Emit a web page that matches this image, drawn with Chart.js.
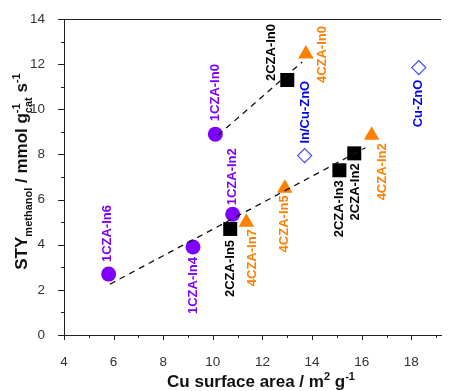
<!DOCTYPE html>
<html><head><meta charset="utf-8">
<script src="https://cdn.jsdelivr.net/npm/chart.js@4.4.1/dist/chart.umd.min.js"></script>
<style>html,body{margin:0;padding:0;background:#fff;} #wrap{width:451px;height:391px;position:relative;}</style>
</head><body><div id="wrap"><canvas id="c" width="451" height="391"></canvas></div>
<script>
// ---- data ----
const cza1Names = ['1CZA-In0', '1CZA-In2', '1CZA-In4', '1CZA-In6'];
const cza1X = [10.1, 10.8, 9.2, 5.8];
const cza1Y = [8.9, 5.35, 3.9, 2.7];
const cza2Names = ['2CZA-In0', '2CZA-In2', '2CZA-In3', '2CZA-In5'];
const cza2X = [13.0, 15.7, 15.1, 10.7];
const cza2Y = [11.3, 8.05, 7.3, 4.7];
const cza4Names = ['4CZA-In0', '4CZA-In2', '4CZA-In5', '4CZA-In7'];
const cza4X = [13.75, 16.4, 12.9, 11.35];
const cza4Y = [12.45, 8.85, 6.5, 5.0];
const refNames = ['In/Cu-ZnO', 'Cu-ZnO'];
const refX = [13.7, 18.3];
const refY = [7.95, 11.85];
const fitHighX = [10.2, 13.6];
const fitHighY = [8.85, 12.1];
const fitLowX = [5.85, 16.15];
const fitLowY = [2.25, 8.3];
const xTickValues = [4, 6, 8, 10, 12, 14, 16, 18];
const yTickValues = [0, 2, 4, 6, 8, 10, 12, 14];

// ---- label placement (pixel offsets from the marker, rotated text) ----
const labelPlace = {
  '1CZA-In0': [0, -13, 'left'],
  '1CZA-In2': [0, -9, 'left'],
  '1CZA-In6': [-1, -12, 'left'],
  '1CZA-In4': [0, 10, 'right'],
  '2CZA-In5': [0, 11, 'right'],
  '4CZA-In7': [6, 7, 'right'],
  '4CZA-In5': [0, 7, 'right'],
  '2CZA-In3': [0, 10, 'right'],
  '2CZA-In2': [1, 10, 'right'],
  '4CZA-In2': [11, 8, 'right'],
  '2CZA-In0': [-16, 1, 'left'],
  '4CZA-In0': [17, 29, 'left'],
  'In/Cu-ZnO': [1, -12, 'left'],
  'Cu-ZnO': [0, 12, 'right']
};

const FONT = '"Liberation Sans", Arial, Helvetica, sans-serif';
const zip = (xs, ys) => xs.map((x, i) => ({x: x, y: ys[i]}));

const labelsPlugin = {
  id: 'ptlabels',
  afterDatasetsDraw(chart) {
    const ctx = chart.ctx;
    chart.data.datasets.forEach((ds, di) => {
      if (!ds.names) return;
      const meta = chart.getDatasetMeta(di);
      meta.data.forEach((el, i) => {
        const name = ds.names[i];
        const p = labelPlace[name] || [0, -12, 'left'];
        ctx.save();
        ctx.translate(el.x + p[0], el.y + p[1]);
        ctx.rotate(-Math.PI / 2);
        ctx.font = 'bold 13px ' + FONT;
        ctx.fillStyle = ds.labelColor;
        ctx.textAlign = p[2];
        ctx.textBaseline = 'middle';
        ctx.fillText(name, 0, 0);
        ctx.restore();
      });
    });
  }
};

function drawRich(ctx, parts, x, y, main) {
  // parts: {t, k: 'n'|'sub'|'sup'|'stack', t2}
  const small = Math.round(main * 0.65);
  const widths = parts.map(p => {
    if (p.k === 'n') { ctx.font = 'bold ' + main + 'px ' + FONT; return ctx.measureText(p.t).width; }
    ctx.font = 'bold ' + small + 'px ' + FONT;
    if (p.k === 'stack') return Math.max(ctx.measureText(p.t).width, ctx.measureText(p.t2).width);
    return ctx.measureText(p.t).width;
  });
  const total = widths.reduce((a, b) => a + b, 0);
  let cx = x - total / 2;
  parts.forEach((p, i) => {
    if (p.k === 'n') {
      ctx.font = 'bold ' + main + 'px ' + FONT;
      ctx.fillText(p.t, cx, y);
    } else {
      ctx.font = 'bold ' + small + 'px ' + FONT;
      if (p.k === 'sub') ctx.fillText(p.t, cx, y + main * 0.28);
      else if (p.k === 'sup') ctx.fillText(p.t, cx, y - main * 0.4);
      else { ctx.fillText(p.t, cx, y - main * 0.4); ctx.fillText(p.t2, cx, y + main * 0.28); }
    }
    cx += widths[i];
  });
}

const framePlugin = {
  id: 'frame',
  afterDraw(chart) {
    const ctx = chart.ctx;
    const a = chart.chartArea;
    const xs = chart.scales.x, ys = chart.scales.y;
    ctx.save();
    ctx.strokeStyle = '#222';
    ctx.lineWidth = 1;
    ctx.beginPath();
    ctx.moveTo(a.left, Math.round(a.top) + 0.5);
    ctx.lineTo(a.right, Math.round(a.top) + 0.5);
    // y ticks
    yTickValues.forEach((v, i) => {
      const py = Math.round(ys.getPixelForValue(v)) + 0.5;
      ctx.moveTo(a.left - 6, py); ctx.lineTo(a.left + 1, py);
      if (i < yTickValues.length - 1) {
        const pm = Math.round(ys.getPixelForValue((v + yTickValues[i + 1]) / 2)) + 0.5;
        ctx.moveTo(a.left - 3, pm); ctx.lineTo(a.left, pm);
      }
    });
    // x ticks
    xTickValues.forEach((v, i) => {
      const px = Math.round(xs.getPixelForValue(v)) + 0.5;
      ctx.moveTo(px, a.bottom); ctx.lineTo(px, a.bottom + 5);
      const nv = i < xTickValues.length - 1 ? xTickValues[i + 1] : v + 2;
      const mv = (v + nv) / 2;
      if (mv <= xs.max) {
        const pm = Math.round(xs.getPixelForValue(mv)) + 0.5;
        ctx.moveTo(pm, a.bottom); ctx.lineTo(pm, a.bottom + 3);
      }
    });
    ctx.stroke();

    // axis titles
    ctx.fillStyle = '#111';
    ctx.textBaseline = 'alphabetic';
    ctx.textAlign = 'left';
    drawRich(ctx, [
      {t: 'Cu surface area / m', k: 'n'}, {t: '2', k: 'sup'}, {t: ' g', k: 'n'}, {t: '-1', k: 'sup'}
    ], 261, 387, 17);
    ctx.save();
    ctx.translate(27, 171.5);
    ctx.rotate(-Math.PI / 2);
    drawRich(ctx, [
      {t: 'STY', k: 'n'}, {t: 'methanol', k: 'sub'}, {t: ' / mmol g', k: 'n'},
      {t: '-1', t2: 'cat', k: 'stack'}, {t: ' s', k: 'n'}, {t: '-1', k: 'sup'}
    ], 0, 0, 17);
    ctx.restore();
    ctx.restore();
  }
};

const purple = '#8000FF', orange = '#FF8000';

new Chart(document.getElementById('c'), {
  type: 'scatter',
  data: {
    datasets: [
      {type: 'line', data: zip(fitHighX, fitHighY), borderColor: '#111', borderWidth: 1.3,
        borderDash: [6, 5], pointRadius: 0, fill: false},
      {type: 'line', data: zip(fitLowX, fitLowY), borderColor: '#111', borderWidth: 1.3,
        borderDash: [6, 5], pointRadius: 0, fill: false},
      {data: zip(cza1X, cza1Y), names: cza1Names, labelColor: purple, pointStyle: 'circle',
        pointRadius: 7.5, backgroundColor: purple, borderColor: purple, borderWidth: 0},
      {data: zip(cza2X, cza2Y), names: cza2Names, labelColor: '#000', pointStyle: 'rect',
        pointRadius: 9.9, backgroundColor: '#000', borderColor: '#000', borderWidth: 0},
      {data: zip(cza4X, cza4Y), names: cza4Names, labelColor: orange, pointStyle: 'triangle',
        pointRadius: 9, backgroundColor: orange, borderColor: orange, borderWidth: 0},
      {data: zip(refX, refY), names: refNames, labelColor: '#0000F0', pointStyle: 'rectRot',
        pointRadius: 7, backgroundColor: 'rgba(255,255,255,0)', borderColor: '#4646FF', borderWidth: 1.2}
    ]
  },
  options: {
    animation: false,
    responsive: false,
    events: [],
    layout: {padding: {top: 18, right: 0, left: 0, bottom: 0}},
    plugins: {legend: {display: false}, tooltip: {enabled: false}},
    scales: {
      x: {
        type: 'linear', min: 4, max: 19.2,
        afterBuildTicks: s => { s.ticks = xTickValues.map(v => ({value: v})); },
        afterFit: s => { s.height = 56; },
        grid: {display: false},
        border: {display: true, color: '#222', width: 1},
        ticks: {padding: 11, color: '#333', autoSkip: false, maxRotation: 0,
          font: {family: FONT, size: 13.5}}
      },
      y: {
        type: 'linear', min: 0, max: 14,
        afterBuildTicks: s => { s.ticks = yTickValues.map(v => ({value: v})); },
        afterFit: s => { s.width = 64; },
        grid: {display: false},
        border: {display: true, color: '#222', width: 1},
        ticks: {padding: 11, color: '#333', font: {family: FONT, size: 13.5}}
      }
    }
  },
  plugins: [labelsPlugin, framePlugin]
});
</script>
</body></html>
